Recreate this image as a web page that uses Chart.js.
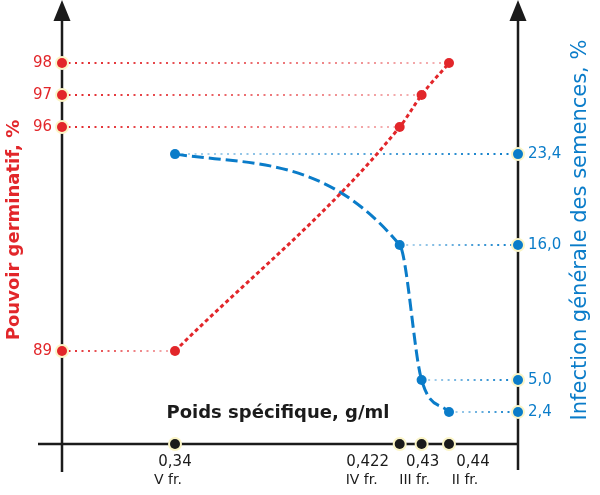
<!DOCTYPE html>
<html>
<head>
<meta charset="utf-8">
<script src="https://cdn.jsdelivr.net/npm/chart.js@4.4.1/dist/chart.umd.min.js"></script>
<style>
  html, body { margin: 0; padding: 0; background: #fff; }
  canvas { display: block; }
</style>
</head>
<body>
<canvas id="chart" width="600" height="495"></canvas>
<script>
// Red: #e2262a  Blue: #0a7cc9
const RED = "#e2262a";
const BLUE = "#0a7cc9";
const INK = "#1b1b1b";

const xValues = [0.34, 0.422, 0.43, 0.44];
const xLabels = ["0,34", "0,422", "0,43", "0,44"];
const fractionLabels = ["V fr.", "IV fr.", "III fr.", "II fr."];

const germination = [89, 96, 97, 98];
const germinationLabels = ["89", "96", "97", "98"];

const infection = [23.4, 16.0, 5.0, 2.4];
const infectionLabels = ["23,4", "16,0", "5,0", "2,4"];

// label nudges under the crowded x points
const numShift = [0, -32, 1, 24];
const fracShift = [-7, -38, -7, 16];

function dot(ctx, x, y, color) {
    ctx.beginPath();
    ctx.arc(x, y, 7, 0, Math.PI * 2);
    ctx.fillStyle = "#fbf5c6";
    ctx.fill();
    ctx.beginPath();
    ctx.arc(x, y, 5, 0, Math.PI * 2);
    ctx.fillStyle = color;
    ctx.fill();
}

function arrowAxis(ctx, x, bottom) {
    ctx.beginPath();
    ctx.moveTo(x, bottom);
    ctx.lineTo(x, 16);
    ctx.stroke();
    ctx.beginPath();
    ctx.moveTo(x, 0);
    ctx.lineTo(x - 8.5, 21);
    ctx.lineTo(x + 8.5, 21);
    ctx.closePath();
    ctx.fill();
}

const axesPlugin = {
    id: "axes",
    beforeDatasetsDraw(chart) {
        const ctx = chart.ctx;
        const xs = chart.scales.x, yl = chart.scales.yL, yr = chart.scales.yR;
        const a = chart.chartArea;
        ctx.save();

        // dotted guides
        ctx.lineWidth = 2;
        ctx.setLineDash([2, 4.5]);
        germination.forEach((v, i) => {
            const y = yl.getPixelForValue(v);
            const px = xs.getPixelForValue(xValues[i]);
            const g = ctx.createLinearGradient(a.left, 0, px, 0);
            g.addColorStop(0, "rgba(226,38,42,1)");
            g.addColorStop(1, "rgba(226,38,42,0.35)");
            ctx.strokeStyle = g;
            ctx.beginPath();
            ctx.moveTo(a.left, y);
            ctx.lineTo(px, y);
            ctx.stroke();
        });
        infection.forEach((v, i) => {
            const y = yr.getPixelForValue(v);
            const px = xs.getPixelForValue(xValues[i]);
            const g = ctx.createLinearGradient(px, 0, a.right, 0);
            g.addColorStop(0, "rgba(10,124,201,0.3)");
            g.addColorStop(1, "rgba(10,124,201,1)");
            ctx.strokeStyle = g;
            ctx.beginPath();
            ctx.moveTo(px, y);
            ctx.lineTo(a.right, y);
            ctx.stroke();
        });

        // axes
        ctx.setLineDash([]);
        ctx.lineWidth = 2.5;
        ctx.strokeStyle = INK;
        ctx.fillStyle = INK;
        arrowAxis(ctx, a.left, 472);
        arrowAxis(ctx, a.right, 470);
        ctx.beginPath();
        ctx.moveTo(38, a.bottom);
        ctx.lineTo(a.right, a.bottom);
        ctx.stroke();
        ctx.restore();
    },
    afterDatasetsDraw(chart) {
        const ctx = chart.ctx;
        const xs = chart.scales.x, yl = chart.scales.yL, yr = chart.scales.yR;
        const a = chart.chartArea;
        ctx.save();
        germination.forEach(v => dot(ctx, a.left, yl.getPixelForValue(v), RED));
        infection.forEach(v => dot(ctx, a.right, yr.getPixelForValue(v), BLUE));
        xValues.forEach(v => dot(ctx, xs.getPixelForValue(v), a.bottom, INK));

        ctx.textBaseline = "middle";
        ctx.font = "15px 'DejaVu Sans'";
        ctx.fillStyle = RED;
        ctx.textAlign = "right";
        germination.forEach((v, i) => ctx.fillText(germinationLabels[i], a.left - 10, yl.getPixelForValue(v)));
        ctx.fillStyle = BLUE;
        ctx.textAlign = "left";
        infection.forEach((v, i) => ctx.fillText(infectionLabels[i], a.right + 10, yr.getPixelForValue(v)));

        ctx.fillStyle = INK;
        ctx.textAlign = "center";
        xValues.forEach((v, i) => {
            const px = xs.getPixelForValue(v);
            ctx.font = "15px 'DejaVu Sans'";
            ctx.fillText(xLabels[i], px + numShift[i], a.bottom + 18);
            ctx.font = "14px 'DejaVu Sans'";
            ctx.fillText(fractionLabels[i], px + fracShift[i], a.bottom + 36);
        });

        ctx.font = "bold 18px 'DejaVu Sans'";
        ctx.fillText("Poids spécifique, g/ml", 278, 413);

        ctx.save();
        ctx.translate(14, 230);
        ctx.rotate(-Math.PI / 2);
        ctx.fillStyle = RED;
        ctx.font = "bold 18px 'DejaVu Sans'";
        ctx.fillText("Pouvoir germinatif, %", 0, 0);
        ctx.restore();

        ctx.save();
        ctx.translate(581, 230);
        ctx.rotate(-Math.PI / 2);
        ctx.fillStyle = BLUE;
        ctx.font = "21px 'DejaVu Sans'";
        ctx.fillText("Infection générale des semences, %", 0, 0);
        ctx.restore();

        ctx.restore();
    }
};

new Chart(document.getElementById("chart"), {
    type: "scatter",
    data: {
        datasets: [{
            label: "Pouvoir germinatif",
            data: xValues.map((x, i) => ({ x: x, y: germination[i] })),
            yAxisID: "yL",
            showLine: true,
            borderColor: RED,
            backgroundColor: RED,
            borderWidth: 3,
            borderDash: [4, 3],
            cubicInterpolationMode: "monotone",
            pointRadius: 5,
            pointBorderWidth: 0
        }, {
            label: "Infection générale",
            data: xValues.map((x, i) => ({ x: x, y: infection[i] })),
            yAxisID: "yR",
            showLine: true,
            borderColor: BLUE,
            backgroundColor: BLUE,
            borderWidth: 3,
            borderDash: [12, 5],
            cubicInterpolationMode: "monotone",
            pointRadius: 5,
            pointBorderWidth: 0
        }]
    },
    options: {
        responsive: false,
        animation: false,
        layout: { padding: { left: 62, right: 82, top: 10, bottom: 51 } },
        scales: {
            x: { type: "linear", min: 0.29876, max: 0.46518, display: false },
            yL: { type: "linear", min: 86.094, max: 99.656, display: false },
            yR: { type: "linear", position: "right", min: -0.213, max: 35.14, display: false }
        },
        plugins: {
            legend: { display: false },
            tooltip: { enabled: false }
        }
    },
    plugins: [axesPlugin]
});
</script>
</body>
</html>
